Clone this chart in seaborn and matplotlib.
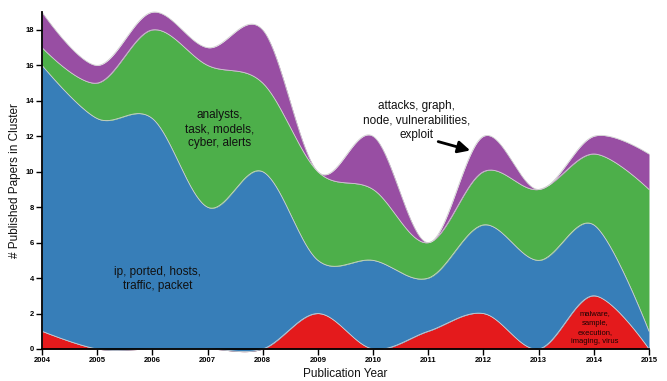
import numpy as np
import pandas as pd
import matplotlib
matplotlib.use("Agg")
import matplotlib.pyplot as plt
import seaborn as sns

# Papers per cluster and year (stacked bottom to top)
years = [2004, 2005, 2006, 2007, 2008, 2009, 2010, 2011, 2012, 2013, 2014, 2015]
malware = [1, 0, 0, 0, 0, 2, 0, 1, 2, 0, 3, 0]
network = [15, 13, 13, 8, 10, 3, 5, 3, 5, 5, 4, 1]
analysts = [1, 2, 5, 8, 5, 5, 4, 2, 3, 4, 4, 8]
attacks = [2, 1, 1, 1, 3, 0, 3, 0, 2, 0, 1, 2]

cluster_names = ["malware", "network", "analysts", "attacks"]
cluster_labels = {
    "malware": "malware,\nsample,\nexecution,\nimaging, virus",
    "network": "ip, ported, hosts,\ntraffic, packet",
    "analysts": "analysts,\ntask, models,\ncyber, alerts",
    "attacks": "attacks, graph,\nnode, vulnerabilities,\nexploit",
}
y_ticks = list(range(0, 19, 2))

df = pd.DataFrame({"year": years, "malware": malware, "network": network,
                   "analysts": analysts, "attacks": attacks})


def cardinal(xs, ys, n=40):
    """Cardinal spline (tension 0) through the points, same end handling as d3.curveCardinal."""
    xs = np.asarray(xs, float)
    ys = np.asarray(ys, float)
    m = len(xs)
    k = 1.0 / 6.0
    out_x, out_y = [xs[0]], [ys[0]]
    t = np.linspace(0, 1, n + 1)[1:]
    for i in range(m - 1):
        p0 = (xs[i], ys[i])
        p3 = (xs[i + 1], ys[i + 1])
        if i == 0:
            c1 = p0
        else:
            c1 = (xs[i] + k * (xs[i + 1] - xs[i - 1]), ys[i] + k * (ys[i + 1] - ys[i - 1]))
        if i == m - 2:
            c2 = p3
        else:
            c2 = (xs[i + 1] + k * (xs[i] - xs[i + 2]), ys[i + 1] + k * (ys[i] - ys[i + 2]))
        a = (1 - t) ** 3
        b = 3 * (1 - t) ** 2 * t
        c = 3 * (1 - t) * t ** 2
        d = t ** 3
        out_x.extend(a * p0[0] + b * c1[0] + c * c2[0] + d * p3[0])
        out_y.extend(a * p0[1] + b * c1[1] + c * c2[1] + d * p3[1])
    return np.array(out_x), np.array(out_y)


sns.set_theme(style="white")
plt.rcParams["font.family"] = ["Liberation Sans", "DejaVu Sans"]

set1 = sns.color_palette("Set1", 4)
palette = dict(zip(cluster_names, set1))

fig = plt.figure(figsize=(6.67, 3.81), dpi=100)
ax = fig.add_axes([0.063, 0.084, 0.910, 0.884])

cum = np.zeros(len(years))
lower_x, lower_y = cardinal(df["year"], cum)
for name in cluster_names:
    cum = cum + df[name].to_numpy()
    ux, uy = cardinal(df["year"], cum)
    ax.fill_between(ux, lower_y, uy, color=palette[name], linewidth=0, clip_on=False, zorder=1)
    edge = pd.DataFrame({"x": ux, "y": uy})
    sns.lineplot(data=edge, x="x", y="y", ax=ax, color="#d0d0d0", linewidth=0.6,
                 estimator=None, sort=False, zorder=2)
    ax.lines[-1].set_clip_on(False)
    lower_y = uy

ax.set_xlim(2004, 2015)
ax.set_ylim(0, 19)
ax.set_xticks(years)
ax.set_xticklabels([str(y) for y in years])
ax.set_yticks(y_ticks)
ax.set_yticklabels([str(v) for v in y_ticks])
ax.tick_params(axis="both", labelsize=5.5, length=4, width=1, color="black",
               labelcolor="black", pad=2, direction="out")
ax.tick_params(axis="x", bottom=True)
ax.tick_params(axis="y", left=True)
for lab in ax.get_xticklabels() + ax.get_yticklabels():
    lab.set_fontweight("bold")

for side in ["top", "right"]:
    ax.spines[side].set_visible(False)
for side in ["left", "bottom"]:
    ax.spines[side].set_color("black")
    ax.spines[side].set_linewidth(1.3)
    ax.spines[side].set_zorder(5)

ax.set_xlabel("Publication Year", fontsize=8.5, color="#111111", labelpad=3)
ax.set_ylabel("# Published Papers in Cluster", fontsize=8.5, color="#111111", labelpad=3)

ax.text(2007.22, 12.4, cluster_labels["analysts"], ha="center", va="center",
        fontsize=8.5, color="#111111", linespacing=1.25, zorder=4)
ax.text(2006.10, 3.95, cluster_labels["network"], ha="center", va="center",
        fontsize=8.5, color="#111111", linespacing=1.25, zorder=4)
ax.text(2010.78, 12.9, cluster_labels["attacks"], ha="center", va="center",
        fontsize=8.5, color="#111111", linespacing=1.25, zorder=4)
ax.text(2014.02, 1.2, cluster_labels["malware"], ha="center", va="center",
        fontsize=5.5, color="#1a0303", linespacing=1.45, zorder=4)

ax.annotate("", xy=(2011.76, 11.2), xytext=(2011.18, 11.7),
            arrowprops=dict(arrowstyle="-|>,head_length=0.6,head_width=0.3",
                            color="black", lw=2, shrinkA=0, shrinkB=0), zorder=4)

fig.savefig("out.png", dpi=100, facecolor="white")
